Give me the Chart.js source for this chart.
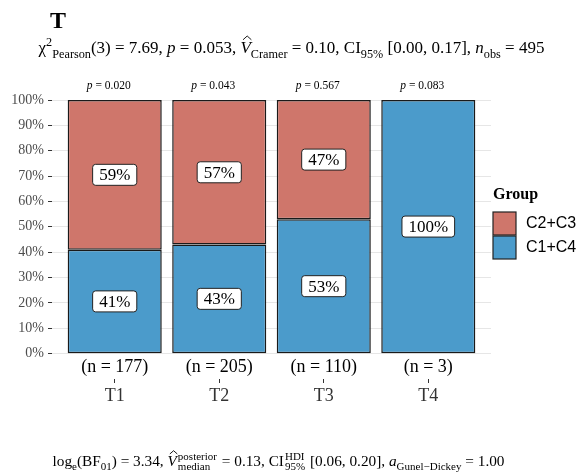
<!DOCTYPE html>
<html>
<head>
<meta charset="utf-8">
<script src="https://cdn.jsdelivr.net/npm/chart.js@4.4.0/dist/chart.umd.min.js"></script>
<style>
  html, body { margin: 0; padding: 0; background: #fff; }
</style>
</head>
<body>
<canvas id="chart" width="584" height="475"></canvas>
<script>
// data
const categories = ['T1', 'T2', 'T3', 'T4'];
const counts = [177, 205, 110, 3];
const pValues = ['0.020', '0.043', '0.567', '0.083'];
const groupC1C4 = [41, 43, 53, 100];
const groupC2C3 = [59, 57, 47, 0];
const legendLabels = ['C2+C3', 'C1+C4'];

const serif = '"Liberation Serif", "Times New Roman", serif';
const sans = '"Liberation Sans", Arial, sans-serif';
const red = '#CF766B';
const blue = '#4B9BCB';

// small rich-text helper for the stats lines (sub/superscripts, hats)
function richParts(ctx, parts, size) {
  const small = size * 0.72;
  let total = 0;
  const out = parts.map(function (p) {
    ctx.font = (p.it ? 'italic ' : '') + size + 'px ' + serif;
    const wt = p.t ? ctx.measureText(p.t).width : 0;
    ctx.font = small + 'px ' + serif;
    const wsub = p.sub ? ctx.measureText(p.sub).width : 0;
    const wsup = p.sup ? ctx.measureText(p.sup).width : 0;
    const extra = (p.sub && p.sup) ? Math.max(wsub, wsup) : wsub + wsup;
    const r = { p: p, wt: wt, wsup: wsup, w: wt + extra + (p.pad || 0) };
    total += r.w;
    return r;
  });
  return { items: out, width: total, small: small };
}

function drawRich(ctx, parts, cx, y, size) {
  const m = richParts(ctx, parts, size);
  let x = cx - m.width / 2;
  ctx.textBaseline = 'alphabetic';
  ctx.textAlign = 'left';
  ctx.fillStyle = '#000';
  m.items.forEach(function (r) {
    const p = r.p;
    if (p.t) {
      ctx.font = (p.it ? 'italic ' : '') + size + 'px ' + serif;
      ctx.fillText(p.t, x, y);
      if (p.hat) {
        const top = y - size * 0.72;
        ctx.beginPath();
        ctx.lineWidth = 0.9;
        ctx.strokeStyle = '#000';
        ctx.moveTo(x + r.wt * 0.25, top - 1);
        ctx.lineTo(x + r.wt * 0.65, top - size * 0.28);
        ctx.lineTo(x + r.wt * 1.05, top - 1);
        ctx.stroke();
      }
    }
    let sx = x + r.wt;
    ctx.font = m.small + 'px ' + serif;
    if (p.sub && p.sup) {
      ctx.fillText(p.sup, sx + 1, y - size * 0.42);
      ctx.fillText(p.sub, sx + 1, y + size * 0.28);
    } else {
      if (p.sup) { ctx.fillText(p.sup, sx, y - size * 0.42); sx += r.wsup; }
      if (p.sub) { ctx.fillText(p.sub, sx, y + size * 0.28); }
    }
    x += r.w;
  });
}

const subtitle = [
  { t: 'χ' }, { sup: '2' }, { sub: 'Pearson' }, { t: '(3) = 7.69, ' },
  { t: 'p', it: true }, { t: ' = 0.053, ' },
  { t: 'V', it: true, hat: true, sub: 'Cramer' }, { t: ' = 0.10, CI' }, { sub: '95%' },
  { t: ' [0.00, 0.17], ' }, { t: 'n', it: true, sub: 'obs' }, { t: ' = 495' }
];
const caption = [
  { t: 'log', sub: 'e' }, { t: '(BF', sub: '01' }, { t: ') = 3.34, ' },
  { t: 'V', it: true, hat: true, sup: 'posterior', sub: 'median', pad: 2 }, { t: ' = 0.13, CI', sup: 'HDI', sub: '95%', pad: 2 },
  { t: ' [0.06, 0.20], ' }, { t: 'a', it: true, sub: 'Gunel\u2212Dickey' }, { t: ' = 1.00' }
];

const annotations = {
  id: 'annotations',
  afterDatasetsDraw(chart) {
    const ctx = chart.ctx;
    ctx.save();
    // percentage boxes
    chart.data.datasets.forEach(function (ds, di) {
      chart.getDatasetMeta(di).data.forEach(function (bar, i) {
        const v = ds.data[i].y;
        if (!v) return;
        const txt = v + '%';
        ctx.font = '17px ' + serif;
        const w = ctx.measureText(txt).width + 13;
        const h = 21;
        const cy = (bar.y + bar.base) / 2;
        ctx.beginPath();
        ctx.roundRect(bar.x - w / 2, cy - h / 2, w, h, 3);
        ctx.fillStyle = '#fff';
        ctx.fill();
        ctx.lineWidth = 1;
        ctx.strokeStyle = '#222';
        ctx.stroke();
        ctx.fillStyle = '#000';
        ctx.textAlign = 'center';
        ctx.textBaseline = 'middle';
        ctx.fillText(txt, bar.x, cy + 1);
      });
    });
    ctx.restore();
  },
  afterDraw(chart) {
    const ctx = chart.ctx;
    const x = chart.scales.x;
    const y = chart.scales.y;
    ctx.save();
    // title
    ctx.fillStyle = '#000';
    ctx.font = 'bold 24px ' + serif;
    ctx.textAlign = 'left';
    ctx.textBaseline = 'alphabetic';
    ctx.fillText('T', 50, 28);
    drawRich(ctx, subtitle, 291.5, 53, 17);
    drawRich(ctx, caption, 278.5, 466, 15.3);
    // p values above and n below each bar
    categories.forEach(function (c, i) {
      const px = x.getPixelForValue(i);
      drawRich(ctx, [{ t: 'p', it: true }, { t: ' = ' + pValues[i] }], px - 6, 89, 11.5);
      ctx.font = '18px ' + serif;
      ctx.textAlign = 'center';
      ctx.textBaseline = 'middle';
      ctx.fillStyle = '#000';
      ctx.fillText('(n = ' + counts[i] + ')', px, y.getPixelForValue(-5.2));
    });
    // legend
    ctx.textAlign = 'left';
    ctx.textBaseline = 'middle';
    ctx.font = 'bold 16px ' + serif;
    ctx.fillText('Group', 493, 195);
    [red, blue].forEach(function (col, k) {
      const top = 212 + k * 24;
      ctx.fillStyle = col;
      ctx.fillRect(493, top, 23, 23);
      ctx.lineWidth = 1.2;
      ctx.strokeStyle = '#222';
      ctx.strokeRect(493, top, 23, 23);
      ctx.fillStyle = '#000';
      ctx.font = '16px ' + sans;
      ctx.fillText(legendLabels[k], 526, top + 12);
    });
    ctx.restore();
  }
};

new Chart(document.getElementById('chart'), {
  type: 'bar',
  data: {
    datasets: [
      {
        label: 'C1+C4',
        data: groupC1C4.map(function (v, i) { return { x: i, y: v }; }),
        backgroundColor: blue
      },
      {
        label: 'C2+C3',
        data: groupC2C3.map(function (v, i) { return { x: i, y: v }; }),
        backgroundColor: red
      }
    ]
  },
  options: {
    responsive: false,
    animation: false,
    devicePixelRatio: 1,
    layout: { padding: { top: 100, right: 93, left: 0, bottom: 0 } },
    datasets: {
      bar: {
        barPercentage: 0.9,
        categoryPercentage: 1,
        borderWidth: 1.5,
        borderColor: '#1a1a1a',
        borderSkipped: false
      }
    },
    plugins: {
      legend: { display: false },
      tooltip: { enabled: false }
    },
    scales: {
      x: {
        type: 'linear',
        min: -0.6,
        max: 3.6,
        offset: false,
        stacked: true,
        afterBuildTicks: function (s) { s.ticks = categories.map(function (c, i) { return { value: i }; }); },
        afterFit: function (s) { s.height = 96; },
        ticks: {
          callback: function (v, i) { return categories[i]; },
          color: '#333',
          font: { family: serif, size: 18 },
          padding: 2,
          autoSkip: false,
          maxRotation: 0
        },
        grid: { offset: false, drawOnChartArea: false, tickLength: 4, tickColor: '#333' },
        border: { display: false }
      },
      y: {
        stacked: true,
        min: -10,
        max: 100,
        afterBuildTicks: function (s) { s.ticks = s.ticks.filter(function (t) { return t.value >= 0; }); },
        afterFit: function (s) { s.width = 52; },
        ticks: {
          stepSize: 5,
          callback: function (v) { return v % 10 === 0 ? v + '%' : ''; },
          color: '#4d4d4d',
          font: { family: serif, size: 14 },
          padding: 4
        },
        grid: {
          color: function (c) { return c.tick && c.tick.value % 10 === 0 ? '#e6e6e6' : '#f3f3f3'; },
          tickColor: function (c) { return c.tick && c.tick.value % 10 === 0 ? '#333' : 'rgba(0,0,0,0)'; },
          tickLength: 4
        },
        border: { display: false }
      }
    }
  },
  plugins: [annotations]
});
</script>
</body>
</html>
